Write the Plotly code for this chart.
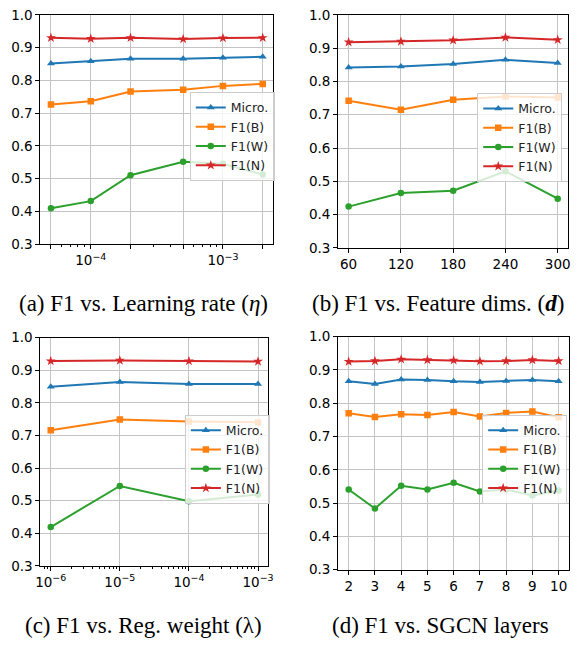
import plotly.graph_objects as go

# ---------------- data ----------------
series_names = ["Micro.", "F1(B)", "F1(W)", "F1(N)"]

# (a) learning rate
lr_x = [5e-5, 1e-4, 2e-4, 5e-4, 1e-3, 2e-3]
lr_micro = [0.851, 0.858, 0.866, 0.866, 0.869, 0.872]
lr_b = [0.726, 0.736, 0.766, 0.771, 0.783, 0.789]
lr_w = [0.409, 0.431, 0.510, 0.551, 0.545, 0.512]
lr_n = [0.930, 0.927, 0.930, 0.926, 0.929, 0.930]

# (b) feature dims
dim_x = [60, 120, 180, 240, 300]
dim_micro = [0.842, 0.845, 0.852, 0.865, 0.855]
dim_b = [0.742, 0.715, 0.745, 0.755, 0.752]
dim_w = [0.424, 0.465, 0.472, 0.530, 0.448]
dim_n = [0.918, 0.920, 0.924, 0.932, 0.925]

# (c) regularisation weight
reg_x = [1e-6, 1e-5, 1e-4, 1e-3]
reg_micro = [0.849, 0.864, 0.858, 0.858]
reg_b = [0.716, 0.749, 0.743, 0.740]
reg_w = [0.419, 0.545, 0.498, 0.519]
reg_n = [0.928, 0.930, 0.928, 0.927]

# (d) SGCN layers
lay_x = [2, 3, 4, 5, 6, 7, 8, 9, 10]
lay_micro = [0.866, 0.858, 0.871, 0.870, 0.866, 0.864, 0.867, 0.870, 0.866]
lay_b = [0.770, 0.759, 0.767, 0.765, 0.774, 0.760, 0.771, 0.775, 0.758]
lay_w = [0.541, 0.484, 0.552, 0.541, 0.561, 0.535, 0.541, 0.523, 0.538]
lay_n = [0.925, 0.927, 0.932, 0.930, 0.929, 0.926, 0.927, 0.930, 0.927]

lr_ticktext = ["", "10<sup>\u22124</sup>", "", "", "10<sup>\u22123</sup>", ""]
dim_ticks = [60, 120, 180, 240, 300]
reg_ticktext = ["10<sup>\u22126</sup>", "10<sup>\u22125</sup>", "10<sup>\u22124</sup>", "10<sup>\u22123</sup>"]
y_ticks = [0.3, 0.4, 0.5, 0.6, 0.7, 0.8, 0.9, 1.0]

captions = [
    "(a) F1 vs. Learning rate (<i>\u03b7</i>)",
    "(b) F1 vs. Feature dims. (<b><i>d</i></b>)",
    "(c) F1 vs. Reg. weight (\u03bb)",
    "(d) F1 vs. SGCN layers",
]

colors = ["#1f77b4", "#ff7f0e", "#2ca02c", "#d62728"]
symbols = ["triangle-up", "square", "circle", "star"]
msizes = [7, 6.5, 6.5, 7.5]

W, H = 582, 646

def px_x(a, b):
    return [a / W, b / W]

def px_y(top, bottom):
    return [1 - bottom / H, 1 - top / H]

panels = [
    dict(x=lr_x, ys=[lr_micro, lr_b, lr_w, lr_n], dom_x=px_x(36, 273), dom_y=px_y(7, 242),
         leg=(188, 86, "left")),
    dict(x=dim_x, ys=[dim_micro, dim_b, dim_w, dim_n], dom_x=px_x(339, 573), dom_y=px_y(7, 246),
         leg=(567, 87, "right")),
    dict(x=reg_x, ys=[reg_micro, reg_b, reg_w, reg_n], dom_x=px_x(36, 268), dom_y=px_y(338, 572),
         leg=(183, 417, "left")),
    dict(x=lay_x, ys=[lay_micro, lay_b, lay_w, lay_n], dom_x=px_x(339, 574), dom_y=px_y(337, 576),
         leg=(572, 417, "right")),
]

fig = go.Figure()
tick_font = dict(family="DejaVu Sans", size=13.5, color="black")

for i, p in enumerate(panels):
    sfx = "" if i == 0 else str(i + 1)
    legname = "legend" if i == 0 else "legend" + str(i + 1)
    for j, name in enumerate(series_names):
        fig.add_trace(go.Scatter(
            x=p["x"], y=p["ys"][j], mode="lines+markers", name=name,
            line=dict(color=colors[j], width=2),
            marker=dict(symbol=symbols[j], size=msizes[j], color=colors[j]),
            xaxis="x" + sfx, yaxis="y" + sfx, legend=legname,
        ))
    lx, ly, anchor = p["leg"]
    fig.update_layout(**{legname: dict(
        x=lx / W, y=1 - ly / H, xanchor=anchor, yanchor="top",
        bgcolor="rgba(255,255,255,0.8)", bordercolor="#cccccc", borderwidth=1,
        font=dict(family="DejaVu Sans", size=12.5, color="#222222"),
        tracegroupgap=0, itemwidth=30,
    )})

common_axis = dict(
    showline=True, linecolor="black", linewidth=1, mirror=True,
    ticks="outside", ticklen=4, tickcolor="black", tickwidth=1,
    showgrid=True, gridcolor="#c4c4c4", gridwidth=1,
    zeroline=False, tickfont=tick_font,
)

for i, p in enumerate(panels):
    sfx = "" if i == 0 else str(i + 1)
    xa = dict(common_axis, domain=p["dom_x"], anchor="y" + sfx)
    ya = dict(common_axis, domain=p["dom_y"], anchor="x" + sfx,
              range=[0.3, 1.0], tickmode="array", tickvals=y_ticks,
              tickformat=".1f")
    if i == 0:
        xa.update(type="log", range=[-4.381, -2.619], tickmode="array",
                  tickvals=lr_x, ticktext=lr_ticktext,
                  minor=dict(ticks="outside", ticklen=2, dtick="D1", showgrid=False, tickcolor="black"))
    elif i == 1:
        xa.update(range=[48, 312], tickmode="array", tickvals=dim_ticks)
    elif i == 2:
        xa.update(type="log", range=[-6.15, -2.85], tickmode="array",
                  tickvals=reg_x, ticktext=reg_ticktext,
                  minor=dict(ticks="outside", ticklen=2, dtick="D1", showgrid=False, tickcolor="black"))
    else:
        xa.update(range=[1.6, 10.4], tickmode="array", tickvals=lay_x)
    fig.update_layout(**{"xaxis" + sfx: xa, "yaxis" + sfx: ya})

caption_pos = [(141, 303), (441, 303), (141, 633), (443.5, 633)]
for cap, (cx, cy) in zip(captions, caption_pos):
    fig.add_annotation(text=cap, x=cx / W, y=1 - cy / H, xref="paper", yref="paper",
                       xanchor="center", yanchor="middle", showarrow=False,
                       font=dict(family="Liberation Serif", size=23, color="black"))

fig.update_layout(
    width=W, height=H, margin=dict(l=0, r=0, t=0, b=0),
    paper_bgcolor="white", plot_bgcolor="white",
)

fig.write_html(
    "out.html",
    config={"displayModeBar": False},
    post_script="document.body.style.margin='0';document.body.style.overflow='hidden';"
                "document.documentElement.style.overflow='hidden';",
)
